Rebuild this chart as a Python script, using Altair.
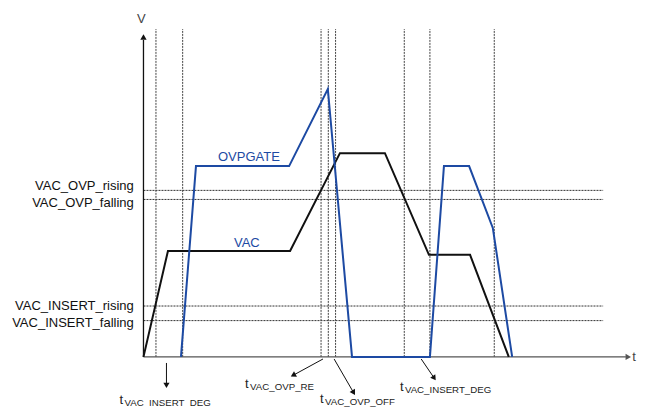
import math
import altair as alt
import pandas as pd

# ---------------- data (time units t, voltage units v) ----------------
thr_names = ["VAC_OVP_rising", "VAC_OVP_falling", "VAC_INSERT_rising", "VAC_INSERT_falling"]
thr_levels = [51.4, 48.6, 15.7, 11.2]
thr_label_v = [51.4, 46.3, 14.5, 9.2]
thr_end = 95.0

vlines_t = [2.58, 8.10, 36.7, 38.2, 39.7, 53.9, 59.2, 72.5]
vline_top = 101.2

vac_t = [0, 5.06, 30.3, 40.6, 49.9, 59.0, 67.5, 75.5]
vac_v = [0, 32.7, 32.7, 62.9, 62.9, 31.5, 31.5, 0]

ovp_t = [7.75, 10.85, 30.1, 38.1, 43.1, 59.2, 62.1, 67.3, 72.2, 76.2]
ovp_v = [0, 58.9, 58.9, 82.7, 0, 0, 58.9, 58.9, 39.8, 0]

series_names = ["OVPGATE", "VAC"]
series_label_t = [15.4, 18.7]
series_label_v = [60.4, 33.9]

ann_sub = ["VAC_INSERT_DEG", "VAC_OVP_RE", "VAC_OVP_OFF", "VAC_INSERT_DEG"]
ann_text_t = [-4.96, 21.0, 36.5, 53.0]
ann_text_v = [-14.5, -9.6, -14.2, -10.5]
arrow_t0 = [4.75, 37.1, 39.4, 57.4]
arrow_v0 = [-1.88, -0.65, -0.65, -0.65]
arrow_t1 = [4.75, 30.3, 43.8, 60.5]
arrow_v1 = [-9.9, -6.2, -12.0, -7.45]

x_axis_end = 99.7
y_axis_end = 97.8
x_head = [100.2, 0]
y_head = [0, 98.75]
t_label_pos = 101.0

# ---------------- scales ----------------
W, H = 629, 399
X_DOM = [-28, 102]
Y_TOP = 107.7
KX = W / (X_DOM[1] - X_DOM[0])
KY = 3.2394
Y_DOM = [Y_TOP - H / KY, Y_TOP]

xs = alt.Scale(domain=X_DOM, nice=False, zero=False)
ys = alt.Scale(domain=Y_DOM, nice=False, zero=False)
FONT = "Liberation Sans"
BLUE = "#1d4aa3"


def X(f):
    return alt.X(f, type="quantitative", scale=xs, axis=None)


def Y(f):
    return alt.Y(f, type="quantitative", scale=ys, axis=None)


# threshold dotted lines
thr_df = pd.DataFrame({"name": thr_names, "v": thr_levels, "lv": thr_label_v,
                       "t0": 0.0, "t1": thr_end, "lt": -2.0})
hlines = alt.Chart(thr_df).mark_rule(color="#333", strokeWidth=1, strokeDash=[2, 1]).encode(
    x=X("t0"), x2="t1", y=Y("v"))
hlabels = alt.Chart(thr_df).mark_text(align="right", baseline="alphabetic", font=FONT,
                                      fontSize=13, color="#111").encode(
    x=X("lt"), y=Y("lv"), text="name:N")

# vertical dotted lines
vl_df = pd.DataFrame({"t": vlines_t, "v0": 0.0, "v1": vline_top})
vlines = alt.Chart(vl_df).mark_rule(color="#444", strokeWidth=1, strokeDash=[2, 1]).encode(
    x=X("t"), y=Y("v0"), y2="v1")

# axes
ax_df = pd.DataFrame({"t0": [0, 0], "t1": [x_axis_end, 0], "v0": [0, 0], "v1": [0, y_axis_end],
                      "c": ["x", "y"]})
axes = alt.Chart(ax_df).mark_rule(strokeWidth=1.3).encode(
    x=X("t0"), x2="t1", y=Y("v0"), y2="v1",
    color=alt.Color("c:N", scale=alt.Scale(domain=["x", "y"], range=["#555", "#111"]), legend=None))
heads_df = pd.DataFrame({"t": x_head, "v": y_head, "s": ["triangle-right", "triangle-up"],
                         "c": ["x", "y"]})
axheads = alt.Chart(heads_df).mark_point(filled=True, size=40, opacity=1, strokeWidth=0).encode(
    x=X("t"), y=Y("v"),
    shape=alt.Shape("s:N", scale=None),
    color=alt.Color("c:N", scale=alt.Scale(domain=["x", "y"], range=["#555", "#111"]), legend=None))
axlabels = alt.Chart(pd.DataFrame({"txt": ["V", "t"], "t": [-1.34, t_label_pos], "v": [103.1, -1.27]})).mark_text(
    align="left", baseline="alphabetic", font=FONT, fontSize=13, color="#444").encode(
    x=X("t"), y=Y("v"), text="txt:N")

# signal lines
vac_df = pd.DataFrame({"t": vac_t, "v": vac_v, "i": range(len(vac_t))})
ovp_df = pd.DataFrame({"t": ovp_t, "v": ovp_v, "i": range(len(ovp_t))})
vac_line = alt.Chart(vac_df).mark_line(color="#111", strokeWidth=2).encode(
    x=X("t"), y=Y("v"), order="i:Q")
ovp_line = alt.Chart(ovp_df).mark_line(color=BLUE, strokeWidth=2).encode(
    x=X("t"), y=Y("v"), order="i:Q")
ser_df = pd.DataFrame({"name": series_names, "t": series_label_t, "v": series_label_v})
ser_labels = alt.Chart(ser_df).mark_text(align="left", baseline="alphabetic", font=FONT,
                                         fontSize=13, color=BLUE).encode(
    x=X("t"), y=Y("v"), text="name:N")

# annotation arrows
rows = []
for t0, v0, t1, v1 in zip(arrow_t0, arrow_v0, arrow_t1, arrow_v1):
    dxp = (t1 - t0) * KX
    dyp = -(v1 - v0) * KY
    L = math.hypot(dxp, dyp)
    ux, uy = dxp / L, dyp / L
    ang = math.degrees(math.atan2(ux, -uy)) % 360
    rows.append({"t0": t0, "v0": v0,
                 "t1": t1 - ux * 3 / KX, "v1": v1 + uy * 3 / KY,
                 "ht": t1 - ux * 3.5 / KX, "hv": v1 + uy * 3.5 / KY, "ang": ang})
arr_df = pd.DataFrame(rows)
arr_lines = alt.Chart(arr_df).mark_rule(color="#111", strokeWidth=1).encode(
    x=X("t0"), x2="t1", y=Y("v0"), y2="v1")
arr_heads = alt.Chart(arr_df).mark_point(filled=True, shape="triangle-up", size=38, color="#111",
                                         opacity=1, strokeWidth=0).encode(
    x=X("ht"), y=Y("hv"), angle=alt.Angle("ang:Q", scale=None))

ann_df = pd.DataFrame({"sub": ann_sub, "t": ann_text_t, "v": ann_text_v, "tt": "t"})
ann_t = alt.Chart(ann_df).mark_text(align="left", baseline="alphabetic", font=FONT,
                                    fontSize=13, color="#222").encode(
    x=X("t"), y=Y("v"), text="tt:N")
ann_s = alt.Chart(ann_df).mark_text(align="left", baseline="alphabetic", font=FONT,
                                    fontSize=9.7, color="#222", dx=5, dy=2).encode(
    x=X("t"), y=Y("v"), text="sub:N")

chart = alt.layer(
    hlines, vlines, axes, axheads, vac_line, ovp_line,
    hlabels, axlabels, ser_labels, arr_lines, arr_heads, ann_t, ann_s
).properties(
    width=W, height=H,
    autosize=alt.AutoSizeParams(type="none"),
    padding=0,
).configure_view(stroke=None)

chart.save("out.html", embed_options={"renderer": "svg", "actions": False})
